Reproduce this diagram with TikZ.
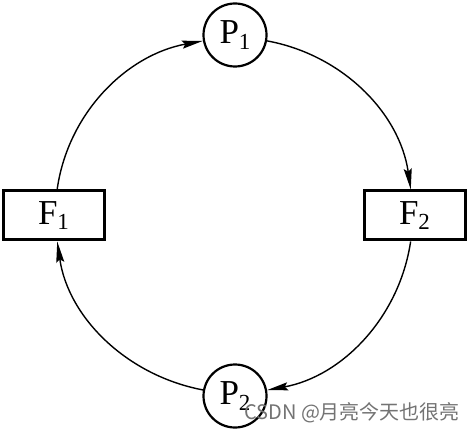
\documentclass[tikz,border=0pt]{standalone}
\usepackage{fontspec}
\setmainfont{Liberation Serif}
\newfontfamily\cjkfont{Noto Sans CJK SC}
\usetikzlibrary{arrows.meta}
\newcommand{\lbl}[2]{#1\raisebox{-0.35ex}{\fontsize{23}{23}\selectfont #2}}
\begin{document}
\begin{tikzpicture}[x=1pt,y=1pt,
  place/.style={circle,draw,line width=2.2pt,minimum size=63pt,inner sep=0pt,font=\fontsize{35}{35}\selectfont},
  fbox/.style={rectangle,draw,line width=3pt,minimum width=101pt,minimum height=49pt,inner sep=0pt,font=\fontsize{35}{35}\selectfont},
  conn/.style={line width=1.4pt,-{Stealth[length=21pt,width=8pt,inset=3pt]},looseness=0.95}]
\useasboundingbox (0,0) rectangle (470,431);
\node[place] (P1) at (235,396) {\lbl{P}{1}};
\node[place] (P2) at (235,35) {\lbl{P}{2}};
\node[fbox] (F1) at (53.5,215.5) {\lbl{F}{1}};
\node[fbox] (F2) at (414.5,215.5) {\lbl{F}{2}};
\draw[conn] (F1) to[out=82,in=190.6] (P1);
\draw[conn] (P1) to[out=-10.6,in=98.3] (F2);
\draw[conn] (F2) to[out=261.7,in=10.6] (P2);
\draw[conn] (P2) to[out=169.4,in=278.3] (F1);
\node[anchor=base west,inner sep=0pt,text=black!55,font=\cjkfont\fontsize{20}{20}\selectfont] (wm) at (244,12) {CSDN @月亮今天也很亮};
\end{tikzpicture}
\end{document}
